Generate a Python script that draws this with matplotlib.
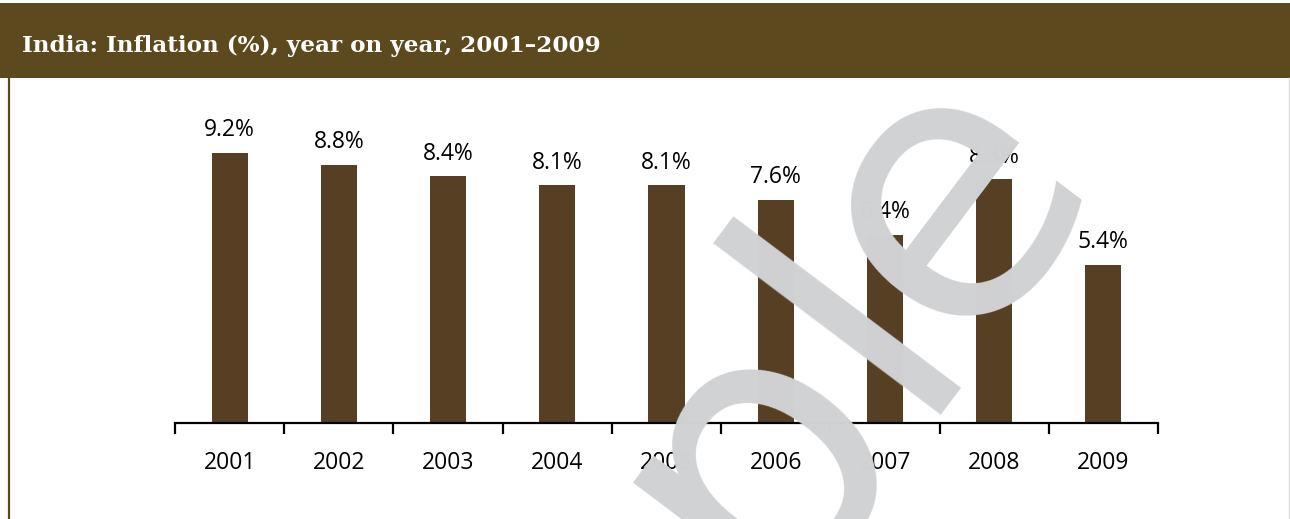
import matplotlib
matplotlib.use("Agg")
import matplotlib.pyplot as plt
from matplotlib.patches import Rectangle
from matplotlib.lines import Line2D

# Inflación anual de India
years = ["2001", "2002", "2003", "2004", "2005", "2006", "2007", "2008", "2009"]
inflation = [9.2, 8.8, 8.4, 8.1, 8.1, 7.6, 6.4, 8.3, 5.4]
title = "India: Inflation (%), year on year, 2001–2009"

band_color = "#5C4A1E"
bar_color = "#573F24"

W, H = 1290, 519
fig = plt.figure(figsize=(W / 100, H / 100), dpi=100)

# Banda del título y bordes
fig.patches.append(Rectangle((0, 1 - 78 / H), 1, 75 / H, transform=fig.transFigure,
                             facecolor=band_color, edgecolor="none", zorder=0))
fig.lines.append(Line2D([8.5 / W, 8.5 / W], [0, 1 - 78 / H], transform=fig.transFigure,
                        color=band_color, linewidth=1.6))
fig.lines.append(Line2D([1288.5 / W, 1288.5 / W], [0, 1 - 78 / H], transform=fig.transFigure,
                        color="#DEDEDE", linewidth=1.0))
fig.text(22 / W, 1 - 52 / H, title, color="white", fontsize=16.7, fontweight="bold",
         family="DejaVu Serif", ha="left", va="baseline")

# Ejes de barras
ymax = 10
px_per_unit = 29.35
ax = fig.add_axes([175 / W, (H - 423) / H, 983 / W, ymax * px_per_unit / H])
x = list(range(len(years)))
ax.bar(x, inflation, width=0.33, color=bar_color, zorder=2)
ax.set_xlim(-0.5, len(years) - 0.5)
ax.set_ylim(0, ymax)

for s in ["top", "right", "left"]:
    ax.spines[s].set_visible(False)
ax.spines["bottom"].set_linewidth(1.6)
ax.set_yticks([])

ax.set_xticks(x)
ax.set_xticklabels(years, family="Open Sans", fontsize=16.5)
ax.tick_params(axis="x", which="major", length=0, pad=20)
ax.set_xticks([i - 0.5 for i in range(len(years) + 1)], minor=True)
ax.tick_params(axis="x", which="minor", length=8, width=1.6, direction="out")

for xi, v in zip(x, inflation):
    ax.annotate(f"{v:.1f}%", (xi, v), xytext=(0, 12), textcoords="offset points",
                ha="center", va="baseline", family="Open Sans", fontsize=16.5, color="black")

# Marca de agua "Sample" (la "e" va un poco más junta)
wm = dict(fontsize=270, family="DejaVu Sans", color="#D1D2D4", rotation=53,
          rotation_mode="anchor", va="baseline", zorder=10)
fig.text(973 / W, 1 - 339 / H, "Sampl", ha="right", **wm)
fig.text(960 / W, 1 - 352 / H, "e", ha="left", **wm)

fig.savefig("out.png", dpi=100)
